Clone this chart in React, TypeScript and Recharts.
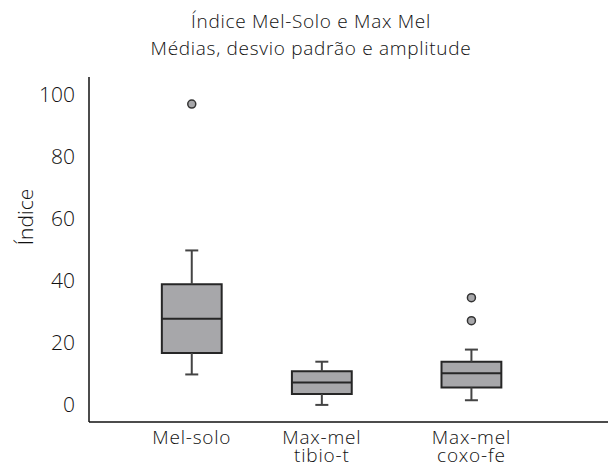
import React from "react";
import {
  ComposedChart,
  ReferenceArea,
  ReferenceLine,
  Scatter,
  XAxis,
  YAxis,
} from "recharts";

// group labels (one entry per line under the axis)
const CATEGORIES = [["Mel-solo"], ["Max-mel", "tibio-t"], ["Max-mel", "coxo-fe"]];
const POSITIONS = [1, 2, 3.15];

// box-plot statistics
const MINS = [9.8, 0, 1.5];
const Q1 = [16.7, 3.5, 5.6];
const MEDIANS = [27.7, 7.2, 10.2];
const Q3 = [38.8, 10.8, 13.9];
const MAXS = [49.7, 13.9, 17.8];
const OUTLIER_GROUPS = [0, 2, 2];
const OUTLIER_VALUES = [96.8, 34.5, 27.1];

const Y_TICKS = [0, 20, 40, 60, 80, 100];

const FONT = "'Open Sans', 'Noto Sans', sans-serif";
const TEXT = "#111";
const BOX_FILL = "#a7a7aa";
const BOX_STROKE = "#262626";
const WHISKER = "#444444";
const HALF_BOX = 0.23;
const HALF_CAP = 0.05;

const outliers = OUTLIER_VALUES.map((v, i) => ({ x: POSITIONS[OUTLIER_GROUPS[i]], y: v }));

function XTick(props: any) {
  const { x, y, payload } = props;
  const idx = POSITIONS.indexOf(payload.value);
  const lines = idx >= 0 ? CATEGORIES[idx] : [];
  return (
    <text
      x={x}
      y={y}
      textAnchor="middle"
      fontFamily={FONT}
      fontSize={19}
      fontWeight={300}
      letterSpacing={0.8}
      fill={TEXT}
    >
      {lines.map((l, i) => (
        <tspan key={i} x={x} dy={i === 0 ? 20 : 18}>
          {l}
        </tspan>
      ))}
    </text>
  );
}

export default function App() {
  return (
    <div style={{ position: "absolute", left: 0, top: 0, width: 608, height: 468, background: "#fff" }}>
      <div
        style={{
          position: "absolute",
          left: 0,
          width: 622,
          top: 8,
          textAlign: "center",
          fontFamily: FONT,
          fontSize: 19,
          fontWeight: 300,
          letterSpacing: 0.7,
          lineHeight: "27px",
          color: TEXT,
        }}
      >
        <div>Índice Mel-Solo e Max Mel</div>
        <div>Médias, desvio padrão e amplitude</div>
      </div>
      <div
        style={{
          position: "absolute",
          left: 25,
          top: 217,
          transform: "translate(-50%, -50%) rotate(-90deg)",
          fontFamily: FONT,
          fontSize: 21,
          fontWeight: 300,
          color: TEXT,
          whiteSpace: "nowrap",
        }}
      >
        Índice
      </div>
      <ComposedChart
        width={608}
        height={468}
        margin={{ top: 77, right: 0, bottom: 16, left: 29 }}
        style={{ position: "absolute", left: 0, top: 0 }}
      >
        <XAxis
          type="number"
          dataKey="x"
          domain={[0.21, 4.2]}
          ticks={POSITIONS}
          tick={<XTick />}
          tickLine={false}
          tickSize={0}
          axisLine={{ stroke: "#111", strokeWidth: 1.5 }}
          interval={0}
          allowDataOverflow
        />
        <YAxis
          type="number"
          dataKey="y"
          width={60}
          domain={[-5.5, 105.5]}
          ticks={Y_TICKS}
          tickLine={false}
          tickSize={0}
          tickMargin={14}
          axisLine={{ stroke: "#111", strokeWidth: 1.5 }}
          tick={{ fontSize: 21, fill: TEXT, fontFamily: FONT, fontWeight: 300 }}
          allowDataOverflow
        />
        {POSITIONS.map((p, i) => (
          <React.Fragment key={"w" + i}>
            <ReferenceLine segment={[{ x: p, y: Q3[i] }, { x: p, y: MAXS[i] }]} stroke={WHISKER} strokeWidth={2} />
            <ReferenceLine segment={[{ x: p - HALF_CAP, y: MAXS[i] }, { x: p + HALF_CAP, y: MAXS[i] }]} stroke={WHISKER} strokeWidth={2} />
            <ReferenceLine segment={[{ x: p, y: MINS[i] }, { x: p, y: Q1[i] }]} stroke={WHISKER} strokeWidth={2} />
            <ReferenceLine segment={[{ x: p - HALF_CAP, y: MINS[i] }, { x: p + HALF_CAP, y: MINS[i] }]} stroke={WHISKER} strokeWidth={2} />
          </React.Fragment>
        ))}
        {POSITIONS.map((p, i) => (
          <ReferenceArea
            key={"b" + i}
            x1={p - HALF_BOX}
            x2={p + HALF_BOX}
            y1={Q1[i]}
            y2={Q3[i]}
            fill={BOX_FILL}
            fillOpacity={1}
            stroke={BOX_STROKE}
            strokeWidth={2}
            strokeOpacity={1}
          />
        ))}
        {POSITIONS.map((p, i) => (
          <ReferenceLine
            key={"m" + i}
            segment={[{ x: p - HALF_BOX, y: MEDIANS[i] }, { x: p + HALF_BOX, y: MEDIANS[i] }]}
            stroke={BOX_STROKE}
            strokeWidth={2}
          />
        ))}
        <Scatter
          data={outliers}
          isAnimationActive={false}
          shape={(props: any) => (
            <circle cx={props.cx} cy={props.cy} r={4} fill={BOX_FILL} stroke="#333" strokeWidth={1.5} />
          )}
        />
      </ComposedChart>
    </div>
  );
}
